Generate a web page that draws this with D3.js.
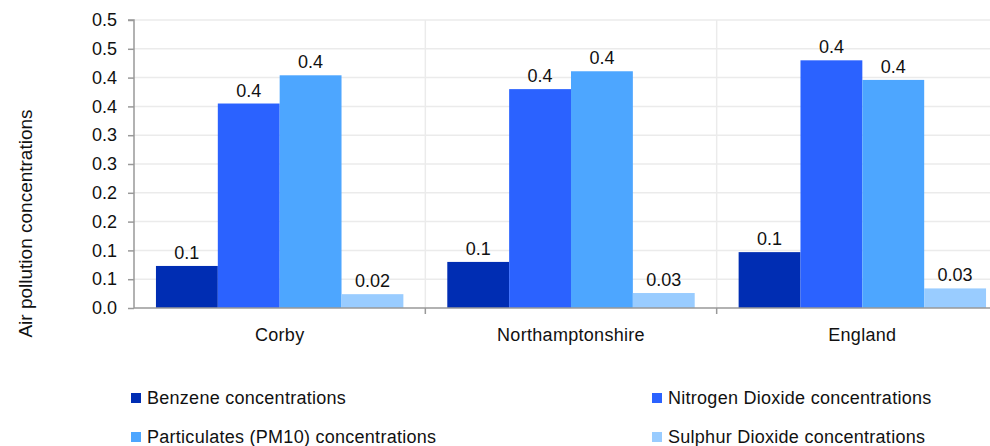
<!DOCTYPE html>
<html>
<head>
<meta charset="utf-8">
<script src="https://cdn.jsdelivr.net/npm/d3@7"></script>
<style>
  html, body { margin: 0; padding: 0; background: #fff; }
  svg { display: block; font-family: "Liberation Sans", Arial, sans-serif; }
</style>
</head>
<body>
<svg id="chart" width="990" height="446"></svg>
<script>
const categories = ["Corby", "Northamptonshire", "England"];
const seriesNames = ["Benzene concentrations", "Nitrogen Dioxide concentrations", "Particulates (PM10) concentrations", "Sulphur Dioxide concentrations"];
const benzene = [0.073, 0.080, 0.097];
const nitrogenDioxide = [0.355, 0.380, 0.430];
const pm10 = [0.404, 0.411, 0.396];
const sulphurDioxide = [0.024, 0.026, 0.034];
const seriesColors = ["#002db3", "#2b62ff", "#4da6ff", "#99ccff"];
const yTicks = [0, 0.05, 0.1, 0.15, 0.2, 0.25, 0.3, 0.35, 0.4, 0.45, 0.5];
const yTickLabels = ["0.0", "0.1", "0.1", "0.2", "0.2", "0.3", "0.3", "0.4", "0.4", "0.5", "0.5"];

const seriesValues = [benzene, nitrogenDioxide, pm10, sulphurDioxide];
const fmtLabel = v => v < 0.05 ? d3.format(".2f")(v) : d3.format(".1f")(v);

const svg = d3.select("#chart");
const pLeft = 134, pRight = 1008, pTop = 20, pBottom = 308;
const FONT = "Liberation Sans, Arial, sans-serif";

const x = d3.scaleBand().domain(categories).range([pLeft, pRight]).paddingInner(0).paddingOuter(0);
const y = d3.scaleLinear().domain([0, 0.5]).range([pBottom, pTop]);
const inner = d3.scaleBand().domain(d3.range(seriesNames.length))
  .range([0, x.bandwidth()]).paddingOuter(0.355).paddingInner(0);

// horizontal grid
svg.append("g").selectAll("line").data(yTicks.slice(1)).join("line")
  .attr("x1", pLeft).attr("x2", 990)
  .attr("y1", d => y(d)).attr("y2", d => y(d))
  .attr("stroke", "#ebebeb").attr("stroke-width", 1.5);

// vertical category separators
svg.append("g").selectAll("line").data(categories.slice(1)).join("line")
  .attr("x1", d => x(d)).attr("x2", d => x(d))
  .attr("y1", pTop).attr("y2", pBottom)
  .attr("stroke", "#ebebeb").attr("stroke-width", 1.5);

// bars
const groups = svg.append("g").selectAll("g").data(categories).join("g")
  .attr("transform", d => `translate(${x(d)},0)`);
groups.each(function(cat, ci) {
  const g = d3.select(this);
  seriesValues.forEach((vals, si) => {
    const v = vals[ci];
    g.append("rect")
      .attr("x", inner(si)).attr("width", inner.bandwidth())
      .attr("y", y(v)).attr("height", y(0) - y(v))
      .attr("fill", seriesColors[si]);
    g.append("text")
      .attr("x", inner(si) + inner.bandwidth() / 2)
      .attr("y", y(v) - 7)
      .attr("text-anchor", "middle")
      .attr("font-size", 18)
      .attr("fill", "#111")
      .text(fmtLabel(v));
  });
});

// y axis
const yAxis = d3.axisLeft(y).tickValues(yTicks).tickSize(6).tickPadding(11)
  .tickFormat((d, i) => yTickLabels[i]);
const gy = svg.append("g").attr("transform", `translate(${pLeft},0)`).call(yAxis);
gy.select(".domain").attr("stroke", "#999").attr("stroke-width", 1.5).attr("d", `M-6,${pTop}H0V${pBottom}`);
gy.selectAll(".tick line").attr("stroke", "#999").attr("stroke-width", 1.5);
gy.selectAll(".tick text").attr("font-size", 18).attr("fill", "#111").attr("font-family", FONT);

// x axis
const xAxis = d3.axisBottom(x).tickSize(0).tickPadding(20);
const gx = svg.append("g").attr("transform", `translate(0,${pBottom})`).call(xAxis);
gx.select(".domain").attr("stroke", "#999").attr("stroke-width", 1.5).attr("d", `M${pLeft},0H${pRight}`);
gx.selectAll(".tick text").attr("font-size", 18).attr("fill", "#111").attr("font-family", FONT)
  .attr("letter-spacing", "0.3px");
gx.append("g").selectAll("line").data(categories.slice(1)).join("line")
  .attr("x1", d => x(d)).attr("x2", d => x(d)).attr("y1", 0).attr("y2", 6)
  .attr("stroke", "#999").attr("stroke-width", 1.5);

// y title
svg.append("text")
  .attr("transform", `translate(32,223.5) rotate(-90)`)
  .attr("text-anchor", "middle")
  .attr("font-size", 19).attr("fill", "#111")
  .text("Air pollution concentrations");

// legend
const legendPos = [[131, 398], [652, 398], [131, 437], [652, 437]];
const lg = svg.append("g").selectAll("g").data(seriesNames).join("g")
  .attr("transform", (d, i) => `translate(${legendPos[i][0]},${legendPos[i][1]})`);
lg.append("rect").attr("x", 0).attr("y", -5).attr("width", 10).attr("height", 10)
  .attr("fill", (d, i) => seriesColors[i]);
lg.append("text").attr("x", 16).attr("y", 0).attr("dy", "0.35em")
  .attr("font-size", 18).attr("letter-spacing", "0.27px").attr("fill", "#111").text(d => d);
</script>
</body>
</html>
